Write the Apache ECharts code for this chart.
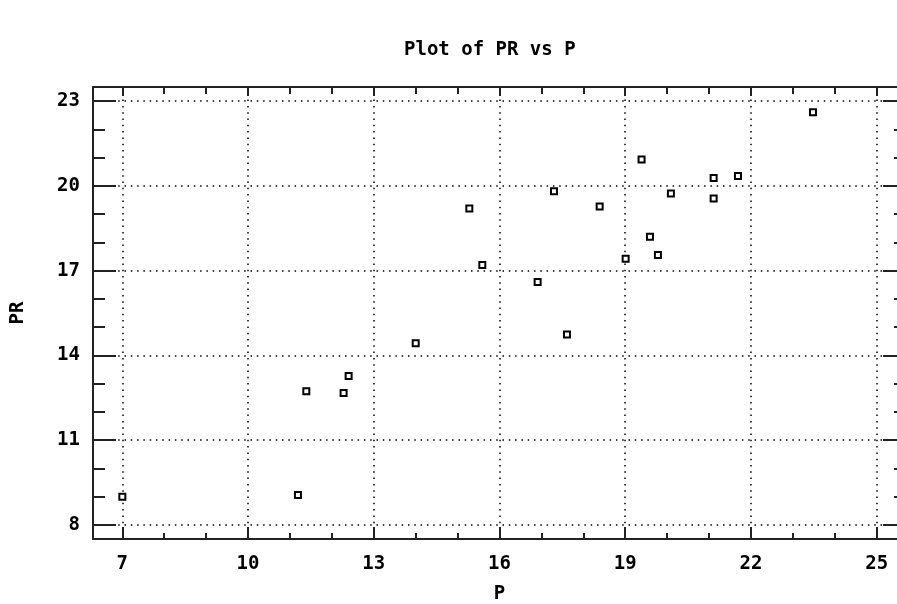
<!DOCTYPE html>
<html><head><meta charset="utf-8">
<script src="https://cdn.jsdelivr.net/npm/echarts@6/dist/echarts.min.js"></script>
<style>html,body{margin:0;padding:0;background:#fff}#c{width:897px;height:604px}</style>
</head><body><div id="c"></div>
<script>
const chartTitle = 'Plot of PR vs P';
const xName = 'P';
const yName = 'PR';
const pValues  = [7.0, 11.19, 11.39, 12.28, 12.40, 14.0, 15.28, 15.59, 16.91, 17.30, 17.61, 18.39, 19.01, 19.39, 19.59, 19.78, 20.09, 21.11, 21.11, 21.69, 23.48];
const prValues = [9.0, 9.06, 12.73, 12.67, 13.27, 14.43, 19.20, 17.20, 16.60, 19.81, 14.74, 19.27, 17.42, 20.93, 18.20, 17.55, 19.73, 20.28, 19.55, 20.35, 22.61];
const xTickValues  = [7, 10, 13, 16, 19, 22, 25];
const xMinorValues = [8, 9, 11, 12, 14, 15, 17, 18, 20, 21, 23, 24];
const yTickValues  = [8, 11, 14, 17, 20, 23];
const yMinorValues = [9, 10, 12, 13, 15, 16, 18, 19, 21, 22];
const X_MIN = 6.3, X_MAX = 25.7, Y_MIN = 7.5, Y_MAX = 23.5;

const FONT = 'DejaVu Sans Mono';
const LINE = '#222';
const gridRect = { left: 93, top: 87, width: 813, height: 452, containLabel: false, outerBoundsMode: 'none' };

function mkAxis(o) {
  return {
    type: 'value', gridIndex: o.grid, position: o.pos, min: o.min, max: o.max,
    axisLine: { show: !!o.line, onZero: false, lineStyle: { color: LINE, width: 2 } },
    axisTick: { show: true, inside: true, length: o.len, customValues: o.ticks, lineStyle: { color: LINE, width: 2 } },
    axisLabel: o.labels ? { show: true, customValues: o.ticks, margin: o.margin, color: '#000', fontFamily: FONT, fontWeight: 'bold', fontSize: 19 } : { show: false },
    splitLine: o.split ? { show: true, lineStyle: { type: [1.5, 4.8], color: '#000', width: 1.5 } } : { show: false },
    name: o.name || '', nameLocation: 'middle', nameGap: o.nameGap || 0, nameMoveOverlap: false,
    nameTextStyle: { color: '#000', fontFamily: FONT, fontWeight: 'bold', fontSize: 19 }
  };
}

const chart = echarts.init(document.getElementById('c'), null, { renderer: 'canvas' });
chart.setOption({
  animation: false,
  backgroundColor: '#fff',
  title: { text: chartTitle, left: 399, top: 36, textStyle: { fontFamily: FONT, fontWeight: 'bold', fontSize: 19, color: '#000' } },
  grid: [
    Object.assign({}, gridRect),
    Object.assign({}, gridRect)
  ],
  xAxis: [
    mkAxis({ grid: 0, pos: 'bottom', min: X_MIN, max: X_MAX, line: true, len: 12, ticks: xTickValues, labels: true, margin: 16, split: true, name: xName, nameGap: 46 }),
    mkAxis({ grid: 0, pos: 'top', min: X_MIN, max: X_MAX, line: true, len: 9, ticks: xTickValues }),
    mkAxis({ grid: 1, pos: 'bottom', min: X_MIN, max: X_MAX, line: false, len: 6, ticks: xMinorValues }),
    mkAxis({ grid: 1, pos: 'top', min: X_MIN, max: X_MAX, line: false, len: 7, ticks: xMinorValues })
  ],
  yAxis: [
    mkAxis({ grid: 0, pos: 'left', min: Y_MIN, max: Y_MAX, line: true, len: 23, ticks: yTickValues, labels: true, margin: 13, split: true, name: yName, nameGap: 65 }),
    mkAxis({ grid: 0, pos: 'right', min: Y_MIN, max: Y_MAX, line: true, len: 23, ticks: yTickValues }),
    mkAxis({ grid: 1, pos: 'left', min: Y_MIN, max: Y_MAX, line: false, len: 12, ticks: yMinorValues }),
    mkAxis({ grid: 1, pos: 'right', min: Y_MIN, max: Y_MAX, line: false, len: 12, ticks: yMinorValues })
  ],
  series: [{
    type: 'scatter', xAxisIndex: 0, yAxisIndex: 0,
    data: pValues.map((p, i) => [p, prValues[i]]),
    symbol: 'rect', symbolSize: 6,
    itemStyle: { color: '#fff', borderColor: '#000', borderWidth: 2, opacity: 1 },
    emphasis: { disabled: true }, silent: true
  }]
});
</script></body></html>
